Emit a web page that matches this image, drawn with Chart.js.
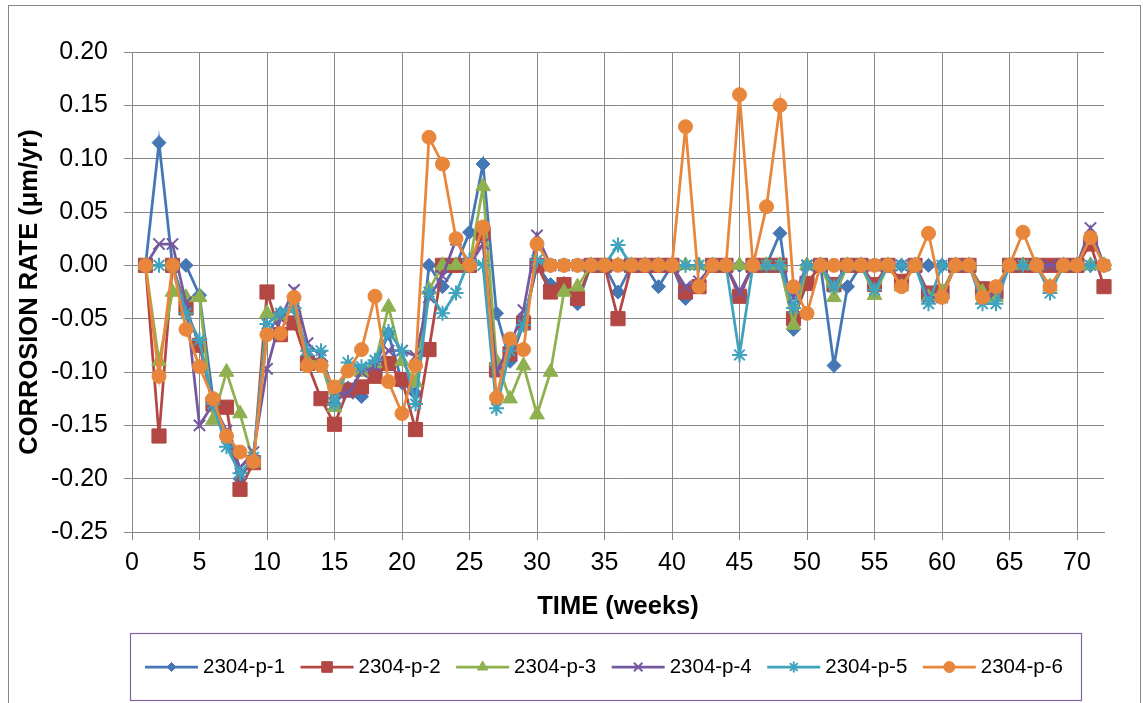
<!DOCTYPE html>
<html lang="en">
<head>
<meta charset="UTF-8">
<title>Corrosion rate</title>
<style>
  html, body { margin: 0; padding: 0; background: #fff; }
  canvas { display: block; }
</style>
</head>
<body>
<canvas id="myChart" width="1143" height="703"></canvas>

<script src="https://cdn.jsdelivr.net/npm/chart.js"></script>
<script>
// weeks 1..72
const weeks = Array.from({ length: 72 }, (_, i) => i + 1);
const seriesNames = ['2304-p-1', '2304-p-2', '2304-p-3', '2304-p-4', '2304-p-5', '2304-p-6'];

const p1 = [
  0, 0.115, 0, 0, -0.028, -0.125, -0.16, -0.2, -0.18, -0.065,
  -0.045, -0.04, -0.085, -0.09, -0.13, -0.115, -0.123, -0.095, -0.064, -0.11,
  -0.12, 0, -0.02, 0, 0.031, 0.095, -0.045, -0.09, -0.055, 0,
  -0.018, -0.017, -0.036, 0, 0, -0.025, 0, 0, -0.02, 0,
  -0.031, -0.02, 0, 0, 0, 0, 0, 0.03, -0.06, 0,
  0, -0.094, -0.02, 0, -0.02, 0, 0, 0, 0, 0,
  0, 0, -0.025, -0.025, 0, 0, 0, 0, 0, 0,
  0, 0
];
const p2 = [
  0, -0.16, 0, -0.04, -0.075, -0.13, -0.133, -0.21, -0.185, -0.025,
  -0.065, -0.054, -0.092, -0.125, -0.149, -0.117, -0.114, -0.104, -0.092, -0.107,
  -0.154, -0.079, 0, 0, 0, 0.03, -0.098, -0.083, -0.054, 0,
  -0.025, -0.018, -0.031, 0, 0, -0.05, 0, 0, 0, 0,
  -0.025, -0.02, 0, 0, -0.029, 0, 0, 0, -0.05, -0.017,
  0, -0.018, 0, 0, -0.018, 0, -0.015, 0, -0.026, -0.025,
  0, 0, -0.022, -0.025, 0, 0, 0, 0, 0, 0,
  0.02, -0.02
];
const p3 = [
  0, -0.09, -0.025, -0.03, -0.03, -0.145, -0.1, -0.139, -0.185, -0.045,
  -0.048, -0.04, -0.09, -0.09, -0.133, -0.095, -0.1, -0.092, -0.039, -0.09,
  -0.11, -0.023, 0, 0, 0, 0.074, -0.09, -0.125, -0.094, -0.14,
  -0.1, -0.025, -0.02, 0, 0, 0, 0, 0, 0, 0,
  0, 0, 0, 0, 0, 0, 0, 0, -0.056, 0,
  0, -0.03, 0, 0, -0.028, 0, -0.02, 0, -0.03, -0.025,
  0, 0, -0.025, -0.03, 0, 0, 0, -0.02, 0, 0,
  0, 0
];
const p4 = [
  0, 0.02, 0.02, -0.035, -0.15, -0.13, -0.155, -0.19, -0.175, -0.097,
  -0.05, -0.023, -0.073, -0.085, -0.12, -0.12, -0.1, -0.095, -0.08, -0.08,
  -0.085, -0.03, -0.01, 0.024, 0, 0.02, -0.1, -0.075, -0.042, 0.028,
  0, 0, 0, 0, 0, 0, 0, 0, 0, 0,
  -0.02, -0.015, 0, 0, -0.025, 0, 0, 0, -0.03, 0,
  0, -0.02, 0, 0, 0, 0, 0, 0, -0.03, -0.03,
  0, 0, -0.03, -0.025, 0, 0, 0, 0, 0, 0,
  0.035, 0
];
const p5 = [
  0, 0, 0, -0.045, -0.07, -0.13, -0.17, -0.195, -0.18, -0.055,
  -0.045, -0.04, -0.08, -0.08, -0.13, -0.091, -0.095, -0.089, -0.062, -0.08,
  -0.13, -0.025, -0.045, -0.026, 0.005, 0, -0.134, -0.08, -0.056, 0.005,
  0, 0, 0, 0, 0, 0.019, 0, 0, 0, 0,
  0, 0, 0, 0, -0.084, 0, 0, 0, -0.04, 0,
  0, -0.02, 0, 0, -0.023, 0, 0, 0, -0.036, 0,
  0, 0, -0.036, -0.036, 0, 0, 0, -0.026, 0, 0,
  0, 0
];
const p6 = [
  0, -0.104, 0, -0.06, -0.095, -0.125, -0.16, -0.175, -0.184, -0.065,
  -0.064, -0.03, -0.094, -0.094, -0.114, -0.099, -0.079, -0.029, -0.109, -0.139,
  -0.094, 0.12, 0.095, 0.025, 0, 0.036, -0.124, -0.069, -0.079, 0.02,
  0, 0, 0, 0, 0, 0, 0, 0, 0, 0,
  0.13, -0.02, 0, 0, 0.16, 0, 0.055, 0.15, -0.02, -0.045,
  0, 0, 0, 0, 0, 0, -0.02, 0, 0.03, -0.03,
  0, 0, -0.03, -0.02, 0, 0.031, 0, -0.02, 0, 0,
  0.026, 0
];
const allSeries = [p1, p2, p3, p4, p5, p6];

const colors  = ['#4677B5', '#B24744', '#8FB04F', '#7459A0', '#3FA3BE', '#E8873C'];
const markers = ['rectRot', 'rect', 'triangle', 'crossRot', 'star', 'circle'];
const radii   = [7, 10, 8.5, 8, 7.5, 7];
const legendRadii = [4.5, 7.5, 6, 6, 5.5, 5.5];

const FONT = "'Liberation Sans', Arial, sans-serif";
const GRID = '#878787';

const datasets = seriesNames.map((name, i) => ({
  label: name,
  data: weeks.map((w, k) => ({ x: w, y: allSeries[i][k] })),
  borderColor: colors[i],
  backgroundColor: colors[i],
  borderWidth: 2.75,
  pointStyle: markers[i],
  pointRadius: radii[i],
  pointBorderWidth: (markers[i] === 'crossRot' || markers[i] === 'star') ? 2 : 1,
  pointBackgroundColor: colors[i],
  pointBorderColor: colors[i],
  tension: 0,
  clip: false,
  order: seriesNames.length - i   // last series on top, like the original
}));

// outer frame + legend in its own box
const frameAndLegend = {
  id: 'frameAndLegend',
  beforeDraw(chart) {
    const ctx = chart.ctx;
    ctx.save();
    ctx.fillStyle = '#fff';
    ctx.fillRect(0, 0, chart.width, chart.height);
    ctx.strokeStyle = GRID;
    ctx.lineWidth = 1;
    ctx.strokeRect(8.5, 5.5, 1132, 730);
    ctx.restore();
  },
  afterDraw(chart) {
    const ctx = chart.ctx;
    ctx.save();
    ctx.strokeStyle = '#8064A2';
    ctx.lineWidth = 1.2;
    ctx.strokeRect(130.5, 633.5, 951, 67);

    const cy = 667;
    const lineLen = 53;
    let x = 145;
    ctx.font = '20.5px ' + FONT;
    ctx.textBaseline = 'middle';
    ctx.textAlign = 'left';
    seriesNames.forEach((name, i) => {
      ctx.strokeStyle = colors[i];
      ctx.fillStyle = colors[i];
      ctx.lineWidth = 2.75;
      ctx.beginPath();
      ctx.moveTo(x, cy);
      ctx.lineTo(x + lineLen, cy);
      ctx.stroke();
      const thin = markers[i] === 'crossRot' || markers[i] === 'star';
      ctx.lineWidth = thin ? 2 : 1;
      if (Chart.helpers && Chart.helpers.drawPoint) {
        Chart.helpers.drawPoint(ctx, {
          pointStyle: markers[i], radius: legendRadii[i], rotation: 0, borderWidth: ctx.lineWidth
        }, x + lineLen / 2, cy);
      }
      ctx.fillStyle = '#000';
      ctx.fillText(name, x + lineLen + 5, cy);
      x += lineLen + 5 + ctx.measureText(name).width + 15.5;
    });
    ctx.restore();
  }
};

const ctx = document.getElementById('myChart').getContext('2d');
const chart = new Chart(ctx, {
  type: 'line',
  data: { datasets: datasets },
  plugins: [frameAndLegend],
  options: {
    responsive: false,
    devicePixelRatio: 1,
    animation: false,
    layout: { padding: { left: 0, right: 39, top: 52, bottom: 73 } },
    plugins: {
      legend: { display: false },
      tooltip: { enabled: false }
    },
    scales: {
      x: {
        type: 'linear',
        min: 0,
        max: 72,
        ticks: {
          stepSize: 5,
          includeBounds: false,
          padding: 8,
          color: '#000',
          maxRotation: 0,
          autoSkip: false,
          font: { family: FONT, size: 25 }
        },
        grid: { color: GRID, lineWidth: 1, tickLength: 8, tickColor: GRID },
        border: { color: GRID, width: 1 },
        title: {
          display: true,
          text: 'TIME (weeks)',
          color: '#000',
          font: { family: FONT, size: 25.5, weight: 'bold' },
          padding: { top: 0, bottom: 8 }
        },
        afterFit(scale) { scale.height = 98; }
      },
      y: {
        min: -0.25,
        max: 0.2,
        ticks: {
          stepSize: 0.05,
          padding: 16,
          color: '#000',
          font: { family: FONT, size: 25 },
          callback: v => (Math.abs(v) < 1e-9 ? 0 : v).toFixed(2)
        },
        grid: { color: GRID, lineWidth: 1, tickLength: 8, tickColor: GRID },
        border: { color: GRID, width: 1 },
        title: {
          display: true,
          text: 'CORROSION RATE (μm/yr)',
          color: '#000',
          font: { family: FONT, size: 25.5, weight: 'bold' },
          padding: { top: 15, bottom: 0 }
        },
        afterFit(scale) { scale.width = 132; }
      }
    }
  }
});
</script>
</body>
</html>
